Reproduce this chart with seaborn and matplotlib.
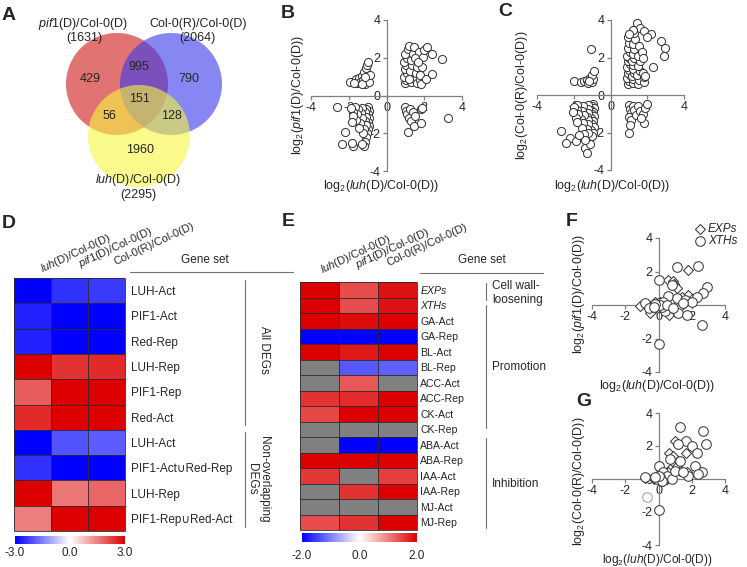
import numpy as np
import pandas as pd
import matplotlib
matplotlib.use("Agg")
import matplotlib.pyplot as plt
import seaborn as sns
from matplotlib.colors import LinearSegmentedColormap
from matplotlib.patches import Circle

# ---------------- data ----------------
# Venn (A)
venn_names = ['pif1', 'colr', 'luh']
venn_totals = [1631, 2064, 2295]
venn_only = [429, 790, 1960]        # pif1 only, Col-0(R) only, luh only
venn_pairs = [995, 56, 128]         # pif1&colr, pif1&luh, colr&luh
venn_all = 151

# B: luh vs pif1
b_points = [
    (-1.93, 0.74), (-1.6, 0.85), (-1.55, 0.65), (-1.45, 0.95), (-1.4, 0.7), (-1.3, 1.05),
    (-1.25, 0.8), (-1.2, 1.25), (-1.15, 0.6), (-1.1, 1.45), (-1.05, 1.6), (-1.0, 0.9),
    (-0.95, 0.7), (-1.0, 1.75), (-1.3, 0.62), (-0.9, 1.1), (-1.7, 0.65), (-1.15, 1.0),
    (1.0, 0.65), (1.05, 0.8), (0.95, 1.0), (1.1, 1.2), (1.0, 1.4), (1.05, 1.6), (0.95, 1.8),
    (1.1, 2.0), (1.0, 2.2), (1.15, 2.45), (1.2, 2.6), (1.3, 0.7), (1.3, 1.0), (1.25, 1.3),
    (1.35, 1.6), (1.3, 1.9), (1.4, 2.2), (1.45, 2.55), (1.5, 0.9), (1.55, 1.2), (1.6, 0.65),
    (1.6, 1.5), (1.7, 2.3), (1.75, 0.8), (1.8, 1.1), (1.85, 0.6), (1.9, 1.5), (1.95, 2.05),
    (2.0, 2.4), (2.1, 0.9), (2.13, 2.58), (2.4, 2.2), (2.39, 1.14), (2.92, 1.92), (1.2, 0.9),
    (1.5, 2.0), (1.65, 1.75),
    (-1.0, -0.6), (-0.95, -0.8), (-1.0, -1.0), (-0.95, -1.2), (-1.0, -1.4), (-0.95, -1.6),
    (-1.0, -1.8), (-1.05, -2.0), (-1.1, -2.2), (-1.15, -2.45), (-1.2, -2.7), (-1.1, -0.7),
    (-1.15, -0.9), (-1.1, -1.15), (-1.15, -1.35), (-1.1, -1.55), (-1.2, -1.75), (-1.3, -0.65),
    (-1.35, -0.95), (-1.3, -1.2), (-1.4, -1.45), (-1.5, -0.7), (-1.55, -1.0), (-1.6, -1.3),
    (-1.65, -0.6), (-1.75, -0.85), (-1.8, -1.1), (-1.9, -0.65), (-1.85, -1.4), (-1.3, -2.55),
    (-2.63, -0.63), (-2.2, -1.91), (-2.37, -2.57), (-1.76, -2.67), (-1.84, -2.5), (-1.25, -2.0),
    (-1.45, -1.7),
    (1.0, -0.6), (1.05, -0.8), (1.1, -1.0), (1.2, -1.2), (1.25, -0.7), (1.3, -1.35), (1.4, -0.9),
    (1.45, -1.6), (1.15, -1.91), (1.85, -0.7), (1.9, -0.65), (1.85, -1.45), (3.27, -1.21),
    (1.5, -1.1),
]

# C: luh vs Col-0(R)
c_points = [
    (0.95, 0.6), (1.0, 0.75), (0.9, 0.9), (1.05, 1.05), (0.95, 1.2), (1.0, 1.35), (0.9, 1.5),
    (1.05, 1.65), (0.95, 1.8), (1.0, 1.95), (0.9, 2.1), (1.05, 2.3), (0.95, 2.5), (1.0, 2.75),
    (0.95, 3.1), (1.2, 0.65), (1.25, 0.85), (1.15, 1.0), (1.3, 1.2), (1.2, 1.4), (1.25, 1.6),
    (1.15, 1.8), (1.3, 2.0), (1.2, 2.2), (1.3, 2.45), (1.25, 2.7), (1.35, 3.0), (1.3, 3.3),
    (1.5, 0.6), (1.55, 0.8), (1.45, 1.05), (1.6, 1.3), (1.5, 1.55), (1.6, 1.8), (1.5, 2.1),
    (1.55, 2.6), (1.46, 3.85), (1.6, 3.6), (1.8, 0.7), (1.85, 0.95), (1.75, 1.2), (1.9, 1.0),
    (1.82, 3.4), (2.18, 3.25), (2.0, 3.1), (1.7, 2.3), (1.75, 2.0), (2.3, 1.47), (2.73, 2.9),
    (2.97, 2.5), (2.92, 2.1), (1.2, 3.45), (1.0, 3.25),
    (-2.0, 0.74), (-1.6, 0.7), (-1.45, 0.75), (-1.3, 0.8), (-1.2, 0.65), (-1.1, 0.9),
    (-1.0, 0.7), (-0.95, 0.85), (-1.0, 1.05), (-0.9, 1.3), (-1.04, 2.43), (-1.15, 0.75),
    (-0.95, -0.5), (-1.0, -0.6), (-0.9, -0.7), (-1.05, -0.8), (-0.95, -0.9), (-1.0, -1.0),
    (-0.9, -1.1), (-1.05, -1.25), (-0.95, -1.4), (-1.0, -1.55), (-0.9, -1.7), (-1.05, -1.85),
    (-0.95, -2.0), (-1.0, -2.2), (-1.2, -0.55), (-1.25, -0.75), (-1.2, -0.95), (-1.3, -1.15),
    (-1.2, -1.35), (-1.25, -1.55), (-1.3, -1.8), (-1.2, -2.0), (-1.5, -0.6), (-1.55, -0.85),
    (-1.45, -1.05), (-1.6, -1.3), (-1.5, -1.5), (-1.55, -1.75), (-1.45, -2.1), (-1.8, -0.55),
    (-1.85, -0.8), (-1.75, -1.0), (-1.9, -1.2), (-1.8, -1.45), (-2.0, -0.65), (-2.05, -0.9),
    (-2.7, -1.91), (-2.19, -2.28), (-2.4, -2.55), (-1.9, -2.45), (-1.37, -2.85), (-1.27, -3.1),
    (-1.1, -2.6), (-1.4, -2.4), (-1.73, -2.12),
    (1.0, -0.55), (1.05, -0.75), (1.1, -0.95), (1.0, -1.15), (1.1, -1.35), (1.05, -1.6),
    (1.0, -2.0), (1.2, -0.6), (1.3, -0.8), (1.4, -1.05), (1.5, -0.6), (1.6, -0.85), (1.75, -1.0),
    (1.8, -1.5), (1.9, -0.7), (2.0, -0.5), (1.65, -1.25),
]

# D heatmap
d_rows = ['LUH-Act', 'PIF1-Act', 'Red-Rep', 'LUH-Rep', 'PIF1-Rep', 'Red-Act',
          'LUH-Act', 'PIF1-Act\u222aRed-Rep', 'LUH-Rep', 'PIF1-Rep\u222aRed-Act']
d_luh = [-3.0, -2.6, -2.6, 3.0, 1.9, 2.5, -3.0, -2.4, 3.0, 1.5]
d_pif1 = [-2.4, -3.0, -3.0, 2.4, 3.0, 3.0, -2.0, -3.0, 1.6, 3.0]
d_colr = [-2.3, -3.0, -3.0, 2.5, 3.0, 3.0, -1.9, -3.0, 1.8, 3.0]

# E heatmap (nan = grey, not significant)
nan = np.nan
e_rows = ['EXPs', 'XTHs', 'GA-Act', 'GA-Rep', 'BL-Act', 'BL-Rep', 'ACC-Act', 'ACC-Rep',
          'CK-Act', 'CK-Rep', 'ABA-Act', 'ABA-Rep', 'IAA-Act', 'IAA-Rep', 'MJ-Act', 'MJ-Rep']
e_luh = [2.0, 2.0, 2.0, -2.0, 2.0, nan, nan, 1.6, 1.45, nan, nan, 2.0, 1.55, nan, nan, 1.4]
e_pif1 = [1.4, 1.4, 1.9, -2.0, 1.8, -1.3, 1.3, 1.65, 2.0, nan, -2.0, 2.0, nan, 1.6, nan, 1.6]
e_colr = [1.85, 1.85, 2.0, -2.0, 2.0, -1.25, nan, 2.0, 2.0, nan, -2.0, 2.0, 1.5, 2.0, nan, 2.0]

# F: luh vs pif1 for cell wall genes
f_exps = [(1.8, 2.1), (0.55, 1.5), (0.85, 1.45), (0.95, 1.25), (1.1, 1.0), (1.8, 0.6),
          (1.4, 0.45), (2.0, 0.35), (0.65, -0.6), (-0.5, -0.5), (-0.9, 0.05), (-1.1, -0.05),
          (0.2, 0.1), (0.0, -0.1), (0.4, 0.05), (-0.2, 0.15), (0.3, -0.15), (0.1, 0.2),
          (-0.1, -0.2), (0.6, 0.2), (1.0, 0.1), (1.3, -0.1), (0.8, 0.3)]
f_xths = [(1.1, 2.25), (2.4, 2.3), (0.0, 1.5), (0.8, 1.2), (2.9, 1.1), (2.7, 0.74), (2.3, 0.5),
          (0.6, 0.55), (1.1, 0.4), (1.6, 0.3), (2.0, 0.2), (-0.8, 0.1), (-0.6, -0.2),
          (1.2, -0.45), (1.7, -0.6), (2.6, -1.2), (0.05, -2.3), (0.4, -0.35), (0.2, -0.1),
          (0.0, 0.1), (0.3, 0.2), (0.1, 0.0), (-0.2, 0.05), (0.5, 0.0), (0.9, -0.2), (1.5, 0.1),
          (-0.3, -0.1)]

# G: luh vs Col-0(R) for cell wall genes
g_exps = [(1.0, 2.3), (1.2, 2.15), (0.65, 1.6), (0.85, 1.4), (1.65, 1.55), (1.1, 0.8),
          (1.7, 0.45), (1.3, 0.5), (0.7, 0.6), (0.2, 0.1), (0.0, 0.0), (0.4, 0.2), (-0.3, 0.0),
          (0.1, -0.1), (0.5, 0.0), (-0.1, 0.2), (0.3, -0.1), (0.6, 0.4), (-0.8, 0.05)]
g_xths = [(1.3, 3.15), (2.65, 2.9), (1.66, 2.3), (1.2, 2.1), (2.0, 2.0), (2.83, 2.1), (2.3, 1.6),
          (2.2, 0.8), (2.6, 0.4), (0.7, 1.2), (1.3, 1.1), (0.05, 0.78), (0.05, -1.85), (0.3, 0.4),
          (0.5, 0.2), (0.1, 0.1), (-0.1, 0.0), (0.2, -0.1), (0.0, 0.2), (0.8, 0.0), (1.8, 0.2),
          (2.4, 0.3), (-0.2, 0.1), (1.0, 0.5), (1.5, 0.4), (-0.8, 0.1)]
g_faint = [(-0.7, -1.1)]

quad_ticks = [-4, -2, 0, 2, 4]

# ---------------- style ----------------
sns.set_style("white")
plt.rcParams['font.family'] = ['Liberation Sans', 'DejaVu Sans']
plt.rcParams['mathtext.fontset'] = 'custom'
plt.rcParams['mathtext.rm'] = 'Liberation Sans'
plt.rcParams['mathtext.it'] = 'Liberation Sans:italic'
plt.rcParams['axes.unicode_minus'] = False

W, H = 747, 567
fig = plt.figure(figsize=(W / 100, H / 100), dpi=100)

# overlay in pixel coordinates for venn, labels and brackets
ov = fig.add_axes([0, 0, 1, 1])
ov.set_xlim(0, W)
ov.set_ylim(H, 0)
ov.axis('off')


def px_axes(left, top, right, bottom):
    return fig.add_axes([left / W, 1 - bottom / H, (right - left) / W, (bottom - top) / H])


# ---------------- A: venn ----------------
venn_circles = {'pif1': ((117, 84), '#cd1616'), 'colr': ((171, 84), '#3737ee'),
                'luh': ((139, 136), '#f7f73f')}
for name in venn_names:
    (cx, cy), col = venn_circles[name]
    ov.add_patch(Circle((cx, cy), 51, facecolor=col, alpha=0.6, edgecolor='none'))

vfs = 9
ov.text(90, 79, str(venn_only[0]), ha='center', va='center', fontsize=vfs)
ov.text(189, 79, str(venn_only[1]), ha='center', va='center', fontsize=vfs)
ov.text(140, 150, str(venn_only[2]), ha='center', va='center', fontsize=vfs)
ov.text(139, 67, str(venn_pairs[0]), ha='center', va='center', fontsize=vfs)
ov.text(109, 116, str(venn_pairs[1]), ha='center', va='center', fontsize=vfs)
ov.text(172, 116, str(venn_pairs[2]), ha='center', va='center', fontsize=vfs)
ov.text(140, 99, str(venn_all), ha='center', va='center', fontsize=vfs)
ov.text(83, 24, r'$\mathit{pif1}$(D)/Col-0(D)', ha='center', va='center', fontsize=vfs)
ov.text(84, 38, '(%d)' % venn_totals[0], ha='center', va='center', fontsize=vfs)
ov.text(198, 24, 'Col-0(R)/Col-0(D)', ha='center', va='center', fontsize=vfs)
ov.text(197, 38, '(%d)' % venn_totals[1], ha='center', va='center', fontsize=vfs)
ov.text(138, 180, r'$\mathit{luh}$(D)/Col-0(D)', ha='center', va='center', fontsize=vfs)
ov.text(138, 195, '(%d)' % venn_totals[2], ha='center', va='center', fontsize=vfs)


# ---------------- B, C, F, G: quadrant scatters ----------------
def style_quad(ax):
    ax.set_xlim(-4, 4)
    ax.set_ylim(-4, 4)
    ax.set_facecolor('none')
    for s in ['top', 'right']:
        ax.spines[s].set_visible(False)
    for s in ['left', 'bottom']:
        ax.spines[s].set_position('zero')
        ax.spines[s].set_color('#808080')
        ax.spines[s].set_linewidth(0.9)
    ax.set_xticks(quad_ticks)
    ax.set_yticks(quad_ticks)
    ax.tick_params(bottom=True, left=True, direction='out', length=3, width=0.9,
                   color='#808080', labelsize=9, pad=1.5)
    ax.set_xlabel('')
    ax.set_ylabel('')


def dots(ax, pts, marker='o', s=34, ec='#3a3a3a'):
    arr = np.array(pts)
    sns.scatterplot(x=arr[:, 0], y=arr[:, 1], ax=ax, marker=marker, s=s, color='white',
                    edgecolor=ec, linewidth=0.75, zorder=3, clip_on=False, legend=False)


ax_b = px_axes(311, 20, 462, 171)
dots(ax_b, b_points)
style_quad(ax_b)

ax_c = px_axes(537, 20, 684, 170)
dots(ax_c, c_points)
style_quad(ax_c)

ax_f = px_axes(592, 238, 725, 372)
dots(ax_f, f_exps, marker='D', s=26)
dots(ax_f, f_xths, s=48)
style_quad(ax_f)

ax_g = px_axes(592, 413, 725, 545)
dots(ax_g, g_exps, marker='D', s=26)
dots(ax_g, g_xths, s=48)
dots(ax_g, g_faint, s=48, ec='#a0a0a0')
style_quad(ax_g)

# legend of F
ov.scatter([700], [229], marker='D', s=26, facecolor='white', edgecolor='#3a3a3a', lw=0.75)
ov.scatter([700], [241], marker='o', s=48, facecolor='white', edgecolor='#3a3a3a', lw=0.75)
ov.text(708, 229, 'EXPs', style='italic', ha='left', va='center', fontsize=8.5)
ov.text(708, 241, 'XTHs', style='italic', ha='left', va='center', fontsize=8.5)

lab_luh = r'log$_2$($\mathit{luh}$(D)/Col-0(D))'
lab_pif = r'log$_2$($\mathit{pif1}$(D)/Col-0(D))'
lab_col = r'log$_2$(Col-0(R)/Col-0(D))'
afs = 9
ov.text(381, 186, lab_luh, ha='center', va='center', fontsize=afs)
ov.text(298, 95, lab_pif, ha='center', va='center', fontsize=afs, rotation=90)
ov.text(612, 186, lab_luh, ha='center', va='center', fontsize=afs)
ov.text(522, 95, lab_col, ha='center', va='center', fontsize=afs, rotation=90)
ov.text(657, 386, lab_luh, ha='center', va='center', fontsize=afs)
ov.text(579, 294, lab_pif, ha='center', va='center', fontsize=afs, rotation=90)
ov.text(657, 559.5, lab_luh, ha='center', va='center', fontsize=8.6)
ov.text(579, 481, lab_col, ha='center', va='center', fontsize=afs, rotation=90)

# ---------------- D, E: heatmaps ----------------
cmap = LinearSegmentedColormap.from_list('blue_white_red', ['#0000ff', '#ffffff', '#dc0000'])


def heat(ax, cax, df, rows, lim, fs, pad_lab, pad_cbar):
    sns.heatmap(df, ax=ax, cmap=cmap, vmin=-lim, vmax=lim, cbar_ax=cax,
                cbar_kws=dict(orientation='horizontal', ticks=[-lim, 0, lim], format='%.1f'),
                xticklabels=False, yticklabels=rows, linewidths=0)
    ax.set_facecolor('#808080')
    n = len(rows)
    ax.hlines(np.arange(n + 1), 0, 3, colors='#2a2a2a', lw=0.6, clip_on=False)
    ax.vlines(np.arange(4), 0, n, colors='#2a2a2a', lw=0.6, clip_on=False)
    ax.yaxis.tick_right()
    ax.tick_params(axis='y', length=0, pad=pad_lab, labelsize=fs, right=False, left=False)
    plt.setp(ax.get_yticklabels(), rotation=0, ha='left')
    ax.set_xlabel('')
    ax.set_ylabel('')
    cb = ax.collections[0].colorbar
    cb.outline.set_visible(False)
    cb.ax.tick_params(length=0, labelsize=8.5, pad=pad_cbar)


ax_d = px_axes(14, 278, 125, 531)
cax_d = px_axes(15, 536, 125, 544)
df_d = pd.DataFrame({'luh': d_luh, 'pif1': d_pif1, 'colr': d_colr})
heat(ax_d, cax_d, df_d, d_rows, 3, 8.5, 4, 2)

ax_e = px_axes(300, 282, 417, 530)
cax_e = px_axes(302, 533, 417, 542)
df_e = pd.DataFrame({'luh': e_luh, 'pif1': e_pif1, 'colr': e_colr})
heat(ax_e, cax_e, df_e, e_rows, 2, 7.6, 2.5, 6)
for t in ax_e.get_yticklabels():
    if t.get_text() in ('EXPs', 'XTHs'):
        t.set_fontstyle('italic')

# column headers, anchored at their right ends
col_heads = [r'$\mathit{luh}$(D)/Col-0(D)', r'$\mathit{pif1}$(D)/Col-0(D)', 'Col-0(R)/Col-0(D)']
for (x, y), s in zip([(112, 240), (153, 234), (195, 228)], col_heads):
    ov.text(x, y, s, rotation=25, rotation_mode='anchor', ha='right', va='baseline', fontsize=8)
for (x, y), s in zip([(392, 241), (430, 235), (468, 229)], col_heads):
    ov.text(x, y, s, rotation=25, rotation_mode='anchor', ha='right', va='baseline', fontsize=8)

# gene set headers and brackets
lc = '#707070'
ov.text(205, 260, 'Gene set', ha='center', va='center', fontsize=8.5)
ov.plot([130, 293], [272, 272], color=lc, lw=0.8)
ov.text(482, 260, 'Gene set', ha='center', va='center', fontsize=8.5)
ov.plot([420, 543], [273, 273], color=lc, lw=0.8)

ov.plot([245, 245], [280, 425], color=lc, lw=0.8)
ov.plot([245, 245], [432, 527], color=lc, lw=0.8)
ov.text(264, 350, 'All DEGs', rotation=-90, ha='center', va='center', fontsize=8.5)
ov.text(258, 479, 'Non-overlapping\nDEGs', rotation=-90, ha='center', va='center',
        fontsize=8.5, multialignment='center', linespacing=1.1)

ov.plot([486, 486], [283, 300], color=lc, lw=0.8)
ov.plot([486, 486], [305, 428], color=lc, lw=0.8)
ov.plot([486, 486], [438, 528], color=lc, lw=0.8)
ov.text(492, 293, 'Cell wall-\nloosening', ha='left', va='center', fontsize=8.5, linespacing=1.15)
ov.text(492, 367, 'Promotion', ha='left', va='center', fontsize=8.5)
ov.text(492, 484, 'Inhibition', ha='left', va='center', fontsize=8.5)

# panel letters
for s, (x, y) in zip('ABCDEFG', [(9, 16), (288, 14), (505, 11), (9, 224), (288, 222),
                                 (572, 222), (584, 402)]):
    ov.text(x, y, s, ha='center', va='center', fontsize=14, fontweight='bold')

fig.savefig('out.png', dpi=100)
